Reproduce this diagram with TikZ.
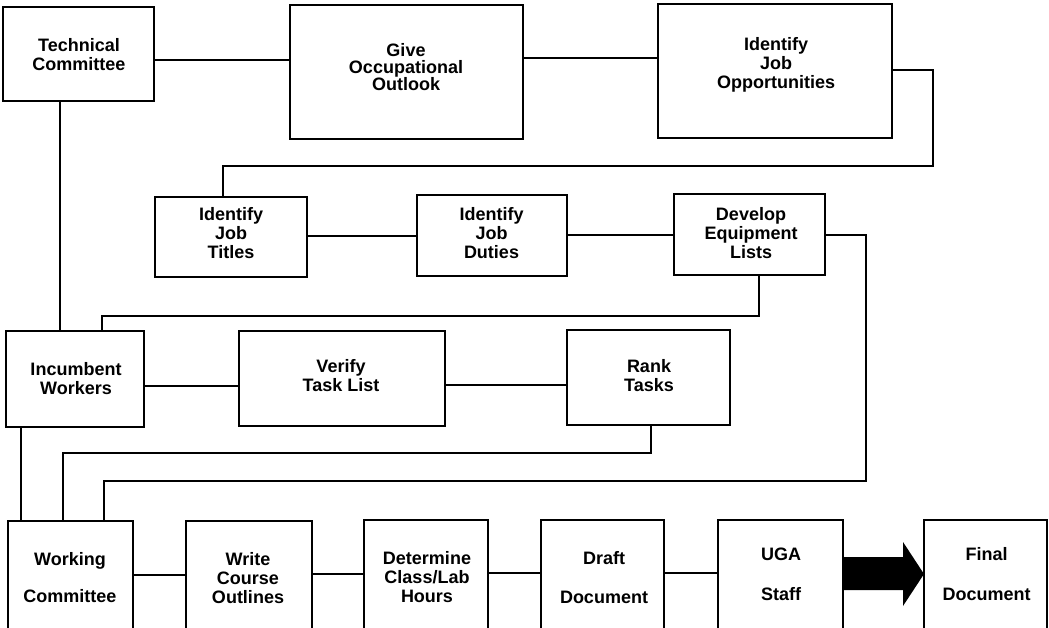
\documentclass[tikz,border=0pt]{standalone}
\usepackage{fontspec}
\setmainfont{Liberation Sans}
\usetikzlibrary{calc}
\begin{document}
\begin{tikzpicture}[x=1pt,y=-1pt,line width=1.5pt,
  box/.style={draw,rectangle,inner sep=0pt,outer sep=0pt,anchor=north west},
  lbl/.style={align=center,anchor=north,inner sep=0pt,font=\bfseries\fontsize{18}{19}\selectfont},
  link/.style={draw,line width=1.5pt},
  bigarrow/.style={fill=black,draw=none}]
\useasboundingbox (0,0) rectangle (1049,628);
\clip (0,0) rectangle (1049,628);
% boxes
\node[box,minimum width=151pt,minimum height=94pt] (tc) at (3,7) {};
\node[box,minimum width=233pt,minimum height=134pt] (give) at (290,5) {};
\node[box,minimum width=234pt,minimum height=134pt] (ijo) at (658,4) {};
\node[box,minimum width=152pt,minimum height=80pt] (ijt) at (155,197) {};
\node[box,minimum width=150pt,minimum height=81pt] (ijd) at (417,195) {};
\node[box,minimum width=151pt,minimum height=81pt] (del) at (674,194) {};
\node[box,minimum width=138pt,minimum height=96pt] (iw) at (6,331) {};
\node[box,minimum width=206pt,minimum height=95pt] (ver) at (239,331) {};
\node[box,minimum width=163pt,minimum height=95pt] (rank) at (567,330) {};
\node[box,minimum width=125pt,minimum height=130pt] (wc) at (8,521) {};
\node[box,minimum width=126pt,minimum height=130pt] (wco) at (186,521) {};
\node[box,minimum width=124pt,minimum height=130pt] (det) at (364,520) {};
\node[box,minimum width=123pt,minimum height=130pt] (draft) at (541,520) {};
\node[box,minimum width=125pt,minimum height=130pt] (uga) at (718,520) {};
\node[box,minimum width=123pt,minimum height=130pt] (fin) at (924,520) {};
% labels
\node[lbl] (tc-t) at (79,38) {Technical\\Committee};
\node[lbl] (give-t) at (406,43) {Give\\[-2pt]Occupational\\[-2pt]Outlook};
\node[lbl] (ijo-t) at (776,37) {Identify\\Job\\Opportunities};
\node[lbl] (ijt-t) at (231,207) {Identify\\Job\\Titles};
\node[lbl] (ijd-t) at (491.5,207) {Identify\\Job\\Duties};
\node[lbl] (del-t) at (751,207) {Develop\\Equipment\\Lists};
\node[lbl] (iw-t) at (76,362) {Incumbent\\Workers};
\node[lbl] (ver-t) at (341,359) {Verify\\Task List};
\node[lbl] (rank-t) at (649,359) {Rank\\Tasks};
\node[lbl] (wc-t) at (70,552) {Working\\[18pt]Committee};
\node[lbl] (wco-t) at (248,552) {Write\\Course\\Outlines};
\node[lbl] (det-t) at (427,551) {Determine\\Class/Lab\\Hours};
\node[lbl] (draft-t) at (604,551) {Draft\\[20pt]Document};
\node[lbl] (uga-t) at (781,547) {UGA\\[21pt]Staff};
\node[lbl] (fin-t) at (986.5,547) {Final\\[21pt]Document};
% bend points
\coordinate (a1) at (933,70);
\coordinate (a2) at (933,166);
\coordinate (a3) at (223,166);
\coordinate (b1) at (866,235);
\coordinate (b2) at (866,481);
\coordinate (b3) at (104,481);
\coordinate (c1) at (759,316);
\coordinate (c2) at (102,316);
\coordinate (d1) at (651,453);
\coordinate (d2) at (63,453);
% connectors
\draw[link] (tc.east |- 0,60) -- (give.west |- 0,60);
\draw[link] (give.east |- 0,58) -- (ijo.west |- 0,58);
\draw[link] (ijo.east |- a1) -- (a1) -- (a2) -- (a3) -- (ijt.north -| a3);
\draw[link] (ijt.east |- 0,236) -- (ijd.west |- 0,236);
\draw[link] (ijd.east |- 0,235) -- (del.west |- 0,235);
\draw[link] (del.east |- b1) -- (b1) -- (b2) -- (b3) -- (wc.north -| b3);
\draw[link] (del.south -| c1) -- (c1) -- (c2) -- (iw.north -| c2);
\draw[link] (tc.south -| 60,0) -- (iw.north -| 60,0);
\draw[link] (iw.east |- 0,386) -- (ver.west |- 0,386);
\draw[link] (ver.east |- 0,385) -- (rank.west |- 0,385);
\draw[link] (rank.south -| d1) -- (d1) -- (d2) -- (wc.north -| d2);
\draw[link] (iw.south -| 21,0) -- (wc.north -| 21,0);
\draw[link] (wc.east |- 0,575) -- (wco.west |- 0,575);
\draw[link] (wco.east |- 0,574) -- (det.west |- 0,574);
\draw[link] (det.east |- 0,573) -- (draft.west |- 0,573);
\draw[link] (draft.east |- 0,573) -- (uga.west |- 0,573);
% big arrow
\fill[bigarrow] (uga.east |- 0,557) -- ([xshift=-21pt]fin.west |- 0,557)
  -- ([xshift=-21pt]fin.west |- 0,542) -- (fin.west |- 0,574)
  -- ([xshift=-21pt]fin.west |- 0,606) -- ([xshift=-21pt]fin.west |- 0,590)
  -- (uga.east |- 0,590) -- cycle;
\end{tikzpicture}
\end{document}
